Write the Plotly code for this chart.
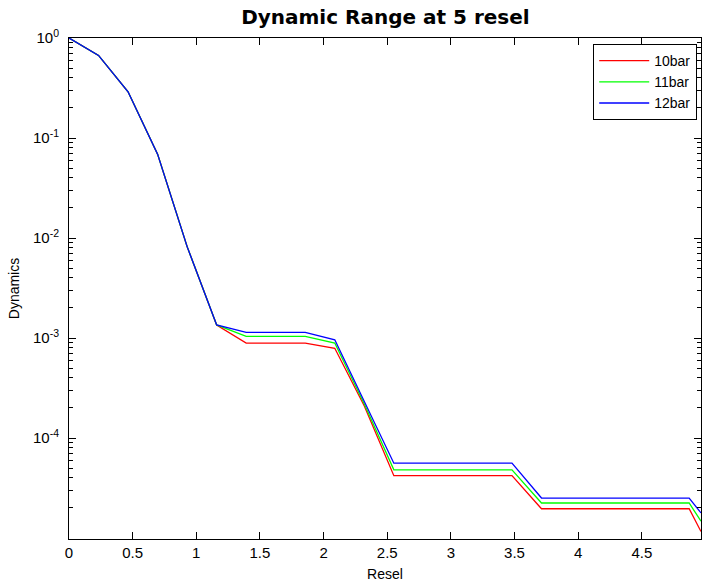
import plotly.graph_objects as go

# ---- data ----
resel = [0.0, 0.232, 0.464, 0.696, 0.928, 1.160, 1.392, 1.624, 1.856, 2.088,
         2.320, 2.552, 2.784, 3.016, 3.248, 3.480, 3.712, 3.944, 4.176, 4.408,
         4.640, 4.872, 4.965]

dyn_10bar = [1.0, 0.67, 0.29, 0.069, 8.2e-3, 1.35e-3, 8.9e-4, 8.9e-4, 8.9e-4, 7.9e-4,
             2.09e-4, 4.2e-5, 4.2e-5, 4.2e-5, 4.2e-5, 4.2e-5, 1.96e-5, 1.96e-5, 1.96e-5, 1.96e-5,
             1.96e-5, 1.96e-5, 1.16e-5]
dyn_11bar = [1.0, 0.67, 0.29, 0.069, 8.2e-3, 1.35e-3, 1.04e-3, 1.04e-3, 1.04e-3, 8.9e-4,
             2.19e-4, 4.8e-5, 4.8e-5, 4.8e-5, 4.8e-5, 4.8e-5, 2.24e-5, 2.24e-5, 2.24e-5, 2.24e-5,
             2.24e-5, 2.24e-5, 1.47e-5]
dyn_12bar = [1.0, 0.67, 0.29, 0.069, 8.2e-3, 1.35e-3, 1.14e-3, 1.14e-3, 1.14e-3, 9.6e-4,
             2.29e-4, 5.6e-5, 5.6e-5, 5.6e-5, 5.6e-5, 5.6e-5, 2.51e-5, 2.51e-5, 2.51e-5, 2.51e-5,
             2.51e-5, 2.51e-5, 1.78e-5]

series_names = ["10bar", "11bar", "12bar"]
series_values = [dyn_10bar, dyn_11bar, dyn_12bar]
series_colors = ["#ff0000", "#00ff00", "#0000ff"]

x_ticks = [0, 0.5, 1, 1.5, 2, 2.5, 3, 3.5, 4, 4.5]
x_tick_labels = ["0", "0.5", "1", "1.5", "2", "2.5", "3", "3.5", "4", "4.5"]
y_ticks = [1, 0.1, 0.01, 0.001, 0.0001]
y_tick_labels = ["10<sup>0</sup>", "10<sup>-1</sup>", "10<sup>-2</sup>",
                 "10<sup>-3</sup>", "10<sup>-4</sup>"]

FONT = "Liberation Sans, Arial, Helvetica, sans-serif"
TITLE_FONT = "DejaVu Sans, Liberation Sans, Arial, sans-serif"

fig = go.Figure()
for name, vals, col in zip(series_names, series_values, series_colors):
    fig.add_trace(go.Scatter(x=resel, y=vals, mode="lines", name=name,
                             line=dict(color=col, width=1.3)))

minor_vals = [m * 10.0 ** e for e in range(-5, 0) for m in range(2, 10)]

fig.update_layout(
    width=702, height=582,
    margin=dict(l=69, r=1, t=38, b=43),
    paper_bgcolor="white", plot_bgcolor="white",
    font=dict(family=FONT, size=14, color="black"),
    title=dict(text="<b>Dynamic Range at 5 resel</b>", x=0.549, xanchor="center",
               y=1 - 17 / 582, yanchor="middle", yref="container",
               font=dict(family=TITLE_FONT, size=20, color="black")),
    showlegend=True,
    legend=dict(x=0.994, y=0.988, xanchor="right", yanchor="top",
                bgcolor="white", bordercolor="black", borderwidth=1,
                font=dict(family=FONT, size=14, color="black"),
                itemwidth=50, tracegroupgap=0),
    xaxis=dict(range=[0, 4.965], tickvals=x_ticks, ticktext=x_tick_labels,
               showline=True, linecolor="black", linewidth=1, mirror="ticks",
               ticks="inside", ticklen=7, tickcolor="black", tickwidth=1,
               showgrid=False, zeroline=False,
               title=dict(text="Resel", standoff=9, font=dict(family=FONT, size=14)),
               tickfont=dict(family=FONT, size=15)),
    yaxis=dict(type="log", range=[-5.01, 0], tickvals=y_ticks, ticktext=y_tick_labels,
               showline=True, linecolor="black", linewidth=1, mirror="ticks",
               ticks="inside", ticklen=7, tickcolor="black", tickwidth=1,
               ticklabelstandoff=6,
               minor=dict(tickvals=minor_vals, ticks="inside", ticklen=4,
                          tickcolor="black", showgrid=False),
               showgrid=False, zeroline=False,
               title=dict(text="Dynamics", standoff=10, font=dict(family=FONT, size=14)),
               tickfont=dict(family=FONT, size=15)),
)

# write the page with no body margin so the figure fills the 702x582 window exactly
html = fig.to_html(full_html=True, include_plotlyjs=True,
                   config={"displayModeBar": False})
html = html.replace("<body>", '<body style="margin:0;padding:0;overflow:hidden;">', 1)
html = html.replace("<head>", '<head><style>html,body{margin:0;padding:0;overflow:hidden;}</style>', 1)
with open("out.html", "w", encoding="utf-8") as f:
    f.write(html)
